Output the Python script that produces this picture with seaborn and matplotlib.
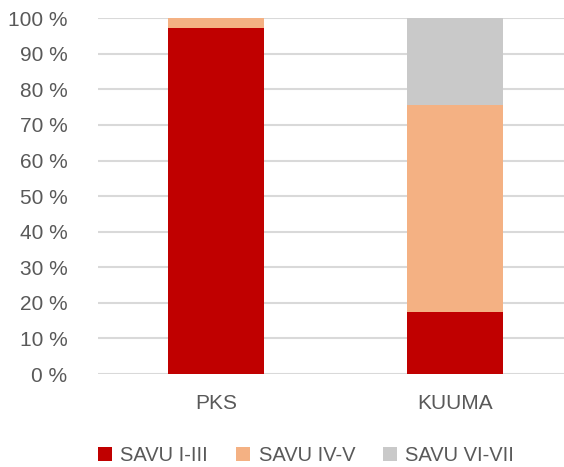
import pandas as pd
import matplotlib.pyplot as plt
import seaborn as sns
import numpy as np
from matplotlib.patches import Patch

# data
categories = ['PKS', 'KUUMA']
series = ['SAVU I-III', 'SAVU IV-V', 'SAVU VI-VII']
savu_1_3 = [97.3, 17.4]
savu_4_5 = [2.7, 58.2]
savu_6_7 = [0.0, 24.4]
y_ticks = [0, 10, 20, 30, 40, 50, 60, 70, 80, 90, 100]

colors = ['#C00000', '#F4B183', '#C9C9C9']
txt = '#595959'

sns.set_theme(style='white')
plt.rcParams['font.family'] = ['Liberation Sans', 'DejaVu Sans']

df = pd.DataFrame({'cat': categories, 's1': savu_1_3, 's2': savu_4_5, 's3': savu_6_7})
df['c1'] = df['s1']
df['c2'] = df['c1'] + df['s2']
df['c3'] = df['c2'] + df['s3']

fig = plt.figure(figsize=(5.64, 4.67), dpi=100)
ax = fig.add_axes([0.174, 0.199, 0.826, 0.762])

# overlapping bars, tallest first -> stacked look
for col, c in zip(['c3', 'c2', 'c1'], colors[::-1]):
    sns.barplot(data=df, x='cat', y=col, color=c, width=0.4, ax=ax,
                saturation=1, linewidth=0, zorder=3)

ax.set_ylim(0, 100)
ax.set_xlim(-0.494, 1.456)
ax.set_yticks(y_ticks)
ax.set_yticklabels(['%d %%' % v for v in y_ticks])
ax.yaxis.grid(True, color='#D9D9D9', linewidth=1.5, zorder=0)
ax.set_axisbelow(True)
ax.set_xlabel('')
ax.set_ylabel('')
for s in ax.spines.values():
    s.set_visible(False)
ax.tick_params(axis='both', length=0, colors=txt, labelsize=15)
ax.tick_params(axis='y', pad=22)
ax.tick_params(axis='x', pad=14)

handles = [Patch(facecolor=c, edgecolor='none') for c in colors]
leg = fig.legend(handles, series, loc='center', bbox_to_anchor=(0.543, 0.024),
                 ncol=3, frameon=False, fontsize=14.5, handlelength=0.7,
                 handleheight=0.7, handletextpad=0.4, columnspacing=1.4)
for t in leg.get_texts():
    t.set_color(txt)

plt.savefig('out.png', dpi=100)
